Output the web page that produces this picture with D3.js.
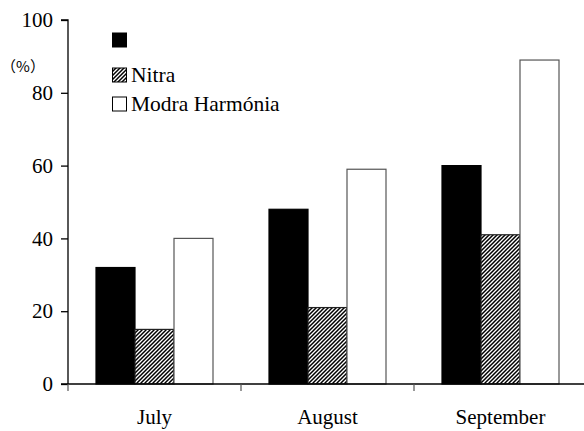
<!DOCTYPE html>
<html>
<head>
<meta charset="utf-8">
<script src="https://cdn.jsdelivr.net/npm/d3@7"></script>
<style>
  html, body { margin: 0; padding: 0; background: #fff; }
  svg { display: block; }
  text { font-family: "Liberation Serif", "Times New Roman", serif; fill: #000; }
</style>
</head>
<body>
<svg id="chart" width="584" height="431"></svg>
<script>
// Data
const categories = ["July", "August", "September"];
const seriesNames = ["", "Nitra", "Modra Harmónia"];
const blackValues = [32, 48, 60];
const nitraValues = [15, 21, 41];
const modraValues = [40, 59, 89];
const yTicks = [0, 20, 40, 60, 80, 100];

const seriesValues = [blackValues, nitraValues, modraValues];

(function () {
const svg = d3.select("#chart");
const W = 584, H = 431;
const mLeft = 68, mRight = 587, mTop = 20, mBottom = 384;
const SERIF = "'Liberation Serif', 'Times New Roman', serif";

const defs = svg.append("defs");
const pat = defs.append("pattern")
  .attr("id", "hatch")
  .attr("patternUnits", "userSpaceOnUse")
  .attr("width", 4).attr("height", 4);
pat.append("rect").attr("width", 4).attr("height", 4).attr("fill", "#fff");
pat.append("path")
  .attr("d", "M-1,1 l2,-2 M0,4 l4,-4 M3,5 l2,-2")
  .attr("stroke", "#000").attr("stroke-width", 1.5);

const fills = ["#000", "url(#hatch)", "#fff"];
const strokes = ["#000", "#222", "#555"];

const x = d3.scaleBand().domain(categories).range([mLeft, mRight]).paddingInner(0).paddingOuter(0);
const groupWidth = 117;
const xs = d3.scaleBand().domain(d3.range(seriesNames.length)).range([0, groupWidth]);
const y = d3.scaleLinear().domain([0, 100]).range([mBottom, mTop]);

// Bars
categories.forEach((c, ci) => {
  const gx0 = x(c) + (x.bandwidth() - groupWidth) / 2;
  seriesValues.forEach((vals, si) => {
    svg.append("rect")
      .attr("x", gx0 + xs(si))
      .attr("y", y(vals[ci]))
      .attr("width", xs.bandwidth())
      .attr("height", y(0) - y(vals[ci]))
      .attr("fill", fills[si])
      .attr("stroke", strokes[si])
      .attr("stroke-width", 1.2);
  });
});

// Y axis
const yAxis = d3.axisLeft(y).tickValues(yTicks).tickSize(7).tickPadding(8).tickFormat(d3.format("d"));
const gy = svg.append("g").attr("transform", `translate(${mLeft},0)`).call(yAxis);
gy.attr("font-family", null).attr("font-size", null);
gy.select(".domain").attr("stroke", "#000").attr("stroke-width", 1.3).attr("d", `M-7,${mTop}H0V${mBottom}`);
gy.selectAll(".tick line").attr("stroke", "#000").attr("stroke-width", 1.3);
gy.selectAll(".tick text").style("font-size", "21px").style("font-family", SERIF).attr("fill", "#000");

// X axis
const gx = svg.append("g").attr("transform", `translate(0,${mBottom})`);
gx.append("line").attr("x1", mLeft - 7).attr("x2", W).attr("y1", 0).attr("y2", 0)
  .attr("stroke", "#000").attr("stroke-width", 1.3);
categories.forEach(c => {
  gx.append("line").attr("x1", x(c)).attr("x2", x(c)).attr("y1", 0).attr("y2", 7)
    .attr("stroke", "#555").attr("stroke-width", 1.2);
  gx.append("text")
    .attr("x", x(c) + x.bandwidth() / 2)
    .attr("y", 40)
    .attr("text-anchor", "middle")
    .style("font-size", "21px")
    .style("font-family", SERIF)
    .text(c);
});

// Y label
svg.append("text").attr("x", 23).attr("y", 72).attr("text-anchor", "middle")
  .style("font-size", "15px").style("font-family", "'Noto Sans CJK JP', sans-serif")
  .text("（%）");

// Legend
const legendY = [33, 68, 97];
seriesNames.forEach((name, i) => {
  svg.append("rect").attr("x", 112.5).attr("y", legendY[i]).attr("width", 14).attr("height", 14)
    .attr("fill", fills[i]).attr("stroke", "#000").attr("stroke-width", 1);
  svg.append("text").attr("x", 131).attr("y", legendY[i] + 14)
    .style("font-size", "21.5px").style("font-family", SERIF).text(name);
});
})();
</script>
</body>
</html>
